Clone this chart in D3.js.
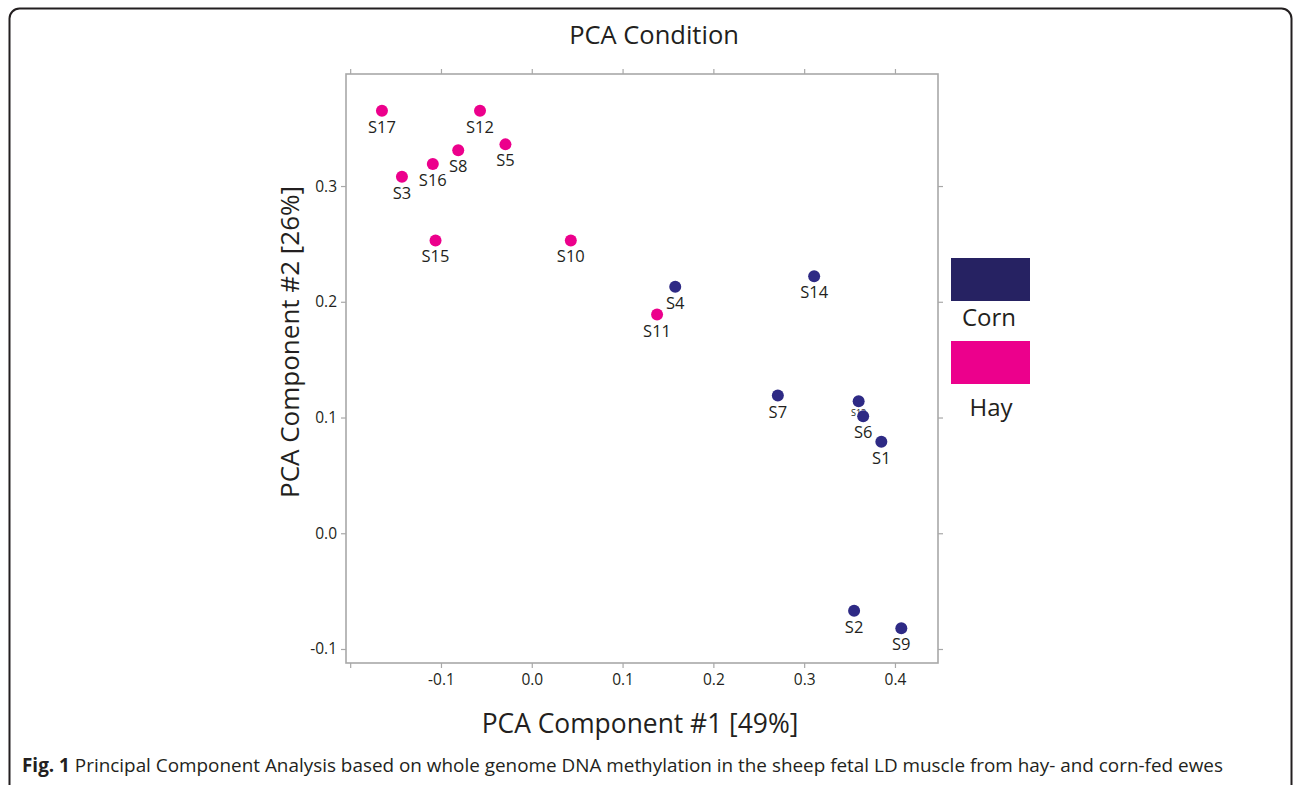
<!DOCTYPE html>
<html>
<head>
<meta charset="utf-8">
<script src="https://cdn.jsdelivr.net/npm/d3@7"></script>
<style>
  body { margin: 0; background: #fff; }
  svg { display: block; }
</style>
</head>
<body>
<div id="chart"></div>
<script>
// sample names and PCA scores
var samples = ["S17", "S12", "S5", "S8", "S16", "S3", "S15", "S10", "S11",
               "S4", "S14", "S7", "S13", "S6", "S1", "S2", "S9"];
var pc1 = [-0.165, -0.057, -0.029, -0.081, -0.109, -0.143, -0.106, 0.043, 0.138,
           0.158, 0.311, 0.271, 0.360, 0.365, 0.385, 0.355, 0.407];
var pc2 = [0.365, 0.365, 0.336, 0.331, 0.319, 0.308, 0.253, 0.253, 0.189,
           0.213, 0.222, 0.119, 0.114, 0.101, 0.079, -0.067, -0.082];
var diet = ["Hay", "Hay", "Hay", "Hay", "Hay", "Hay", "Hay", "Hay", "Hay",
            "Corn", "Corn", "Corn", "Corn", "Corn", "Corn", "Corn", "Corn"];
var groups = ["Corn", "Hay"];
var xTicks = [-0.2, -0.1, 0.0, 0.1, 0.2, 0.3, 0.4];
var yTicks = [-0.1, 0.0, 0.1, 0.2, 0.3];

var W = 1295, H = 785;
var font = "'Open Sans', 'Noto Sans', sans-serif";
var dotColor = {"Corn": "#2e2a85", "Hay": "#ec008c"};
var keyColor = {"Corn": "#262262", "Hay": "#ec008c"};
var frameColor = "#a8a8a8";
var textColor = "#231f20";

var svg = d3.select("#chart").append("svg").attr("width", W).attr("height", H);

// outer rounded box of the figure panel
svg.append("rect")
    .attr("x", 9.5).attr("y", 8.5)
    .attr("width", 1282).attr("height", 790)
    .attr("rx", 10).attr("ry", 10)
    .attr("fill", "none")
    .attr("stroke", "#231f20")
    .attr("stroke-width", 2);

var plot = {left: 346, right: 938, top: 74, bottom: 663};

var x = d3.scaleLinear().domain([-0.2046, 0.4474]).range([plot.left, plot.right]);
var y = d3.scaleLinear().domain([-0.1121, 0.3968]).range([plot.bottom, plot.top]);

// plain hyphen for negatives, like the original
var fmt = function(d) { return d3.format(".1f")(d).replace("\u2212", "-"); };

// axes: ticks on all four sides, labels on bottom and left only
function styleAxis(g) {
    g.select(".domain").remove();
    g.selectAll(".tick line").attr("stroke", frameColor).attr("stroke-width", 1.2);
    g.selectAll("text")
        .attr("font-family", font)
        .attr("font-size", "15.5px")
        .attr("fill", textColor);
}

svg.append("g")
    .attr("transform", "translate(0," + plot.bottom + ")")
    .call(d3.axisBottom(x).tickValues(xTicks).tickSize(5).tickPadding(6)
        .tickFormat(function(d) { return d < -0.15 ? "" : fmt(d); }))
    .call(styleAxis);

svg.append("g")
    .attr("transform", "translate(0," + plot.top + ")")
    .call(d3.axisTop(x).tickValues(xTicks).tickSize(5).tickFormat(""))
    .call(styleAxis);

svg.append("g")
    .attr("transform", "translate(" + plot.left + ",0)")
    .call(d3.axisLeft(y).tickValues(yTicks).tickSize(5).tickPadding(4).tickFormat(fmt))
    .call(styleAxis);

svg.append("g")
    .attr("transform", "translate(" + plot.right + ",0)")
    .call(d3.axisRight(y).tickValues(yTicks).tickSize(5).tickFormat(""))
    .call(styleAxis);

// frame
svg.append("rect")
    .attr("x", plot.left).attr("y", plot.top)
    .attr("width", plot.right - plot.left)
    .attr("height", plot.bottom - plot.top)
    .attr("fill", "none")
    .attr("stroke", frameColor)
    .attr("stroke-width", 1.6);

// points
var rows = samples.map(function(s, i) {
    return {name: s, pc1: pc1[i], pc2: pc2[i], diet: diet[i]};
});

var pts = svg.append("g");
// small S13 label sits under the S6 dot, so draw labels first
pts.selectAll("text.lbl").data(rows).enter().append("text")
    .attr("class", "lbl")
    .attr("x", function(d) { return x(d.pc1); })
    .attr("y", function(d) { return y(d.pc2) + (d.name == "S13" ? 15 : 22); })
    .attr("text-anchor", "middle")
    .attr("font-family", font)
    .attr("font-size", function(d) { return d.name == "S13" ? "9px" : "16.5px"; })
    .attr("fill", textColor)
    .text(function(d) { return d.name; });

pts.selectAll("circle").data(rows).enter().append("circle")
    .attr("cx", function(d) { return x(d.pc1); })
    .attr("cy", function(d) { return y(d.pc2); })
    .attr("r", 6)
    .attr("fill", function(d) { return dotColor[d.diet]; });

// title and axis titles
svg.append("text")
    .attr("x", 654).attr("y", 44)
    .attr("text-anchor", "middle")
    .attr("font-family", font).attr("font-size", "25.5px")
    .attr("fill", textColor)
    .text("PCA Condition");

svg.append("text")
    .attr("x", 640).attr("y", 733)
    .attr("text-anchor", "middle")
    .attr("font-family", font).attr("font-size", "26.4px")
    .attr("fill", textColor)
    .text("PCA Component #1 [49%]");

svg.append("text")
    .attr("transform", "translate(299,342) rotate(-90)")
    .attr("text-anchor", "middle")
    .attr("font-family", font).attr("font-size", "26px")
    .attr("fill", textColor)
    .text("PCA Component #2 [26%]");

// legend
var key = svg.append("g").attr("transform", "translate(951,258)");
groups.forEach(function(g, i) {
    key.append("rect")
        .attr("x", 0).attr("y", i * 83)
        .attr("width", 79).attr("height", 43)
        .attr("fill", keyColor[g]);
    key.append("text")
        .attr("x", 38 + (i == 1 ? 2 : 0)).attr("y", i * 83 + 68 + (i == 1 ? 7 : 0))
        .attr("text-anchor", "middle")
        .attr("font-family", font).attr("font-size", "24px")
        .attr("fill", textColor)
        .text(g);
});

// caption
var cap = svg.append("text")
    .attr("x", 22).attr("y", 772)
    .attr("font-family", font).attr("font-size", "18.9px")
    .attr("fill", textColor);
cap.append("tspan").attr("font-weight", "bold").text("Fig. 1");
cap.append("tspan").text(" Principal Component Analysis based on whole genome DNA methylation in the sheep fetal LD muscle from hay- and corn-fed ewes");
</script>
</body>
</html>
